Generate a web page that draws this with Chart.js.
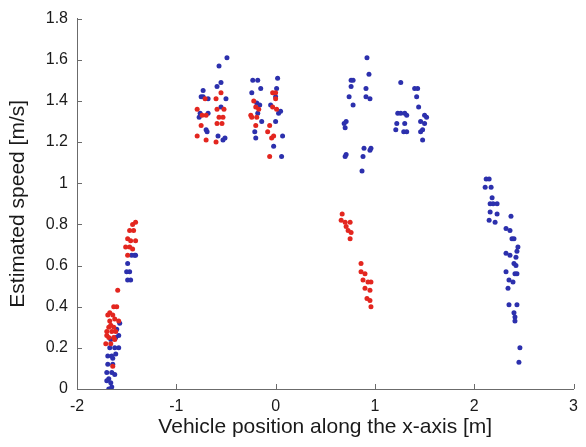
<!DOCTYPE html>
<html>
<head>
<meta charset="utf-8">
<script src="https://cdn.jsdelivr.net/npm/chart.js@4.4.1/dist/chart.umd.min.js"></script>
<style>
    html, body { margin: 0; padding: 0; background: #fff; }
</style>
</head>
<body>
<canvas id="speedChart" width="586" height="447"></canvas>
<script>
// estimated speed vs vehicle position, two groups of points [x, y]
const redPoints = [
    // near x = -1.65
    [-1.60, 0.40], [-1.63, 0.40], [-1.67, 0.37], [-1.69, 0.36], [-1.64, 0.36],
    [-1.67, 0.33], [-1.62, 0.34], [-1.58, 0.33], [-1.68, 0.30], [-1.63, 0.30],
    [-1.66, 0.31], [-1.70, 0.28], [-1.65, 0.28], [-1.61, 0.28], [-1.68, 0.25],
    [-1.63, 0.25], [-1.70, 0.26], [-1.71, 0.22], [-1.66, 0.22], [-1.62, 0.24],
    [-1.64, 0.11], [-1.59, 0.48],
    // near x = -1.45
    [-1.41, 0.81], [-1.44, 0.80], [-1.47, 0.77], [-1.43, 0.77], [-1.49, 0.73],
    [-1.46, 0.72], [-1.41, 0.72], [-1.51, 0.69], [-1.47, 0.69], [-1.44, 0.68],
    [-1.49, 0.65],
    // near x = -0.65
    [-0.71, 1.41], [-0.60, 1.41], [-0.55, 1.44], [-0.79, 1.36], [-0.74, 1.33],
    [-0.70, 1.33], [-0.59, 1.36], [-0.52, 1.36], [-0.57, 1.32], [-0.53, 1.32],
    [-0.75, 1.28], [-0.59, 1.29], [-0.54, 1.29], [-0.79, 1.23], [-0.70, 1.21],
    [-0.60, 1.20],
    // near x = -0.1
    [-0.03, 1.44], [0.00, 1.44], [-0.22, 1.40], [0.00, 1.41], [-0.20, 1.37],
    [-0.17, 1.36], [-0.25, 1.33], [-0.24, 1.32], [-0.19, 1.32], [-0.03, 1.37],
    [0.01, 1.36], [-0.06, 1.28], [-0.20, 1.28], [-0.08, 1.25], [-0.04, 1.22],
    [-0.02, 1.23], [-0.06, 1.13],
    // near x = 0.8
    [0.67, 0.85], [0.66, 0.82], [0.70, 0.81], [0.75, 0.81], [0.71, 0.79],
    [0.73, 0.77], [0.76, 0.76], [0.75, 0.73], [0.86, 0.61], [0.86, 0.57],
    [0.90, 0.56], [0.88, 0.53], [0.93, 0.52], [0.96, 0.52], [0.90, 0.49],
    [0.95, 0.48], [0.92, 0.44], [0.95, 0.43], [0.96, 0.40]
];

const bluePoints = [
    // near x = -1.65
    [-1.57, 0.32], [-1.60, 0.29], [-1.58, 0.26], [-1.61, 0.25], [-1.67, 0.20],
    [-1.62, 0.20], [-1.58, 0.20], [-1.69, 0.16], [-1.65, 0.16], [-1.64, 0.15],
    [-1.69, 0.12], [-1.64, 0.12], [-1.70, 0.08], [-1.65, 0.08], [-1.62, 0.07],
    [-1.68, 0.05], [-1.70, 0.04], [-1.66, 0.03], [-1.68, 0.00], [-1.65, 0.01],
    [-1.66, 0.24], [-1.61, 0.17],
    // near x = -1.45
    [-1.42, 0.65], [-1.45, 0.65], [-1.41, 0.65], [-1.49, 0.61], [-1.47, 0.57],
    [-1.50, 0.57], [-1.49, 0.53], [-1.46, 0.53],
    // near x = -0.65
    [-0.49, 1.61], [-0.57, 1.57], [-0.55, 1.49], [-0.59, 1.47], [-0.73, 1.45],
    [-0.75, 1.42], [-0.73, 1.42], [-0.68, 1.41], [-0.50, 1.41], [-0.55, 1.37],
    [-0.76, 1.34], [-0.68, 1.34], [-0.77, 1.32], [-0.70, 1.26], [-0.69, 1.25],
    [-0.58, 1.23], [-0.53, 1.21], [-0.51, 1.22],
    // near x = -0.1
    [-0.23, 1.50], [-0.18, 1.50], [0.02, 1.51], [0.01, 1.46], [-0.15, 1.46],
    [-0.24, 1.44], [0.00, 1.42], [-0.19, 1.39], [-0.16, 1.38], [-0.05, 1.38],
    [-0.18, 1.34], [0.03, 1.34], [0.05, 1.35], [-0.14, 1.30], [0.00, 1.30],
    [-0.21, 1.25], [-0.20, 1.22], [0.07, 1.23], [-0.02, 1.18], [0.06, 1.13],
    // near x = 0.8
    [0.92, 1.61], [0.94, 1.53], [0.76, 1.50], [0.78, 1.50], [0.76, 1.47],
    [0.91, 1.46], [0.74, 1.42], [0.91, 1.42], [0.95, 1.41], [0.78, 1.38],
    [0.71, 1.30], [0.69, 1.29], [0.70, 1.27], [0.89, 1.17], [0.96, 1.17],
    [0.95, 1.16], [0.71, 1.14], [0.70, 1.13], [0.88, 1.13], [0.87, 1.06],
    // near x = 1.35
    [1.26, 1.49], [1.40, 1.46], [1.43, 1.46], [1.42, 1.42], [1.44, 1.37],
    [1.23, 1.34], [1.26, 1.34], [1.30, 1.34], [1.32, 1.33], [1.50, 1.33],
    [1.52, 1.32], [1.22, 1.29], [1.30, 1.29], [1.46, 1.30], [1.50, 1.29],
    [1.21, 1.26], [1.29, 1.25], [1.32, 1.25], [1.46, 1.25], [1.48, 1.26],
    [1.48, 1.21],
    // near x = 2.3
    [2.12, 1.02], [2.15, 1.02], [2.11, 0.98], [2.17, 0.98], [2.18, 0.93],
    [2.16, 0.90], [2.19, 0.90], [2.23, 0.90], [2.16, 0.86], [2.23, 0.85],
    [2.15, 0.82], [2.21, 0.81], [2.37, 0.84], [2.32, 0.78], [2.36, 0.77],
    [2.38, 0.73], [2.40, 0.73], [2.44, 0.69], [2.43, 0.67], [2.32, 0.66],
    [2.36, 0.65], [2.42, 0.64], [2.40, 0.61], [2.42, 0.60], [2.32, 0.57],
    [2.41, 0.56], [2.43, 0.56], [2.35, 0.53], [2.39, 0.52], [2.34, 0.49],
    [2.35, 0.41], [2.43, 0.41], [2.40, 0.37], [2.41, 0.35], [2.41, 0.33],
    [2.46, 0.20], [2.45, 0.13]
];

const xTicks = [-2, -1, 0, 1, 2, 3];
const xTickLabels = ["-2", "-1", "0", "1", "2", "3"];
const yTicks = [0, 0.2, 0.4, 0.6, 0.8, 1, 1.2, 1.4, 1.6, 1.8];
const yTickLabels = ["0", "0.2", "0.4", "0.6", "0.8", "1", "1.2", "1.4", "1.6", "1.8"];

const axisColor = "#6b6b6b";
const textColor = "#1a1a1a";
const fontFamily = "'Liberation Sans', Arial, Helvetica, sans-serif";

// small tick marks pointing into the plot, like the original figure
const inwardTicks = {
    id: "inwardTicks",
    beforeDatasetsDraw(chart) {
        const { ctx, chartArea, scales } = chart;
        ctx.save();
        ctx.strokeStyle = axisColor;
        ctx.lineWidth = 1;
        ctx.beginPath();
        xTicks.forEach(v => {
            const px = Math.round(scales.x.getPixelForValue(v)) + 0.5;
            ctx.moveTo(px, chartArea.bottom);
            ctx.lineTo(px, chartArea.bottom - 5);
        });
        yTicks.forEach(v => {
            const py = Math.round(scales.y.getPixelForValue(v)) + 0.5;
            ctx.moveTo(chartArea.left, py);
            ctx.lineTo(chartArea.left + 5, py);
        });
        ctx.stroke();
        ctx.restore();
    }
};

function toXY(list) {
    return list.map(p => ({ x: p[0], y: p[1] }));
}

new Chart(document.getElementById("speedChart").getContext("2d"), {
    type: "scatter",
    data: {
        datasets: [
            {
                label: "red",
                data: toXY(redPoints),
                backgroundColor: "#e3261f",
                borderWidth: 0,
                pointRadius: 2.5,
                pointHoverRadius: 2.5
            },
            {
                label: "blue",
                data: toXY(bluePoints),
                backgroundColor: "#2c30ad",
                borderWidth: 0,
                pointRadius: 2.5,
                pointHoverRadius: 2.5
            }
        ]
    },
    options: {
        responsive: false,
        animation: false,
        devicePixelRatio: 1,
        layout: { padding: { top: 17, right: 9, left: 0, bottom: 0 } },
        plugins: {
            legend: { display: false },
            tooltip: { enabled: false }
        },
        scales: {
            x: {
                type: "linear",
                min: -2,
                max: 3,
                afterBuildTicks: s => { s.ticks = xTicks.map(v => ({ value: v })); },
                afterFit: s => { s.height = 58; },
                grid: { display: false, drawTicks: false },
                border: { display: true, color: axisColor, width: 1 },
                ticks: {
                    color: textColor,
                    padding: 8,
                    maxRotation: 0,
                    font: { family: fontFamily, size: 16 },
                    callback: (v, i) => xTickLabels[i]
                },
                title: {
                    display: true,
                    text: "Vehicle position along the x-axis [m]",
                    color: textColor,
                    font: { family: fontFamily, size: 21 },
                    padding: { top: 0, bottom: 7 }
                }
            },
            y: {
                type: "linear",
                min: 0,
                max: 1.8,
                afterBuildTicks: s => { s.ticks = yTicks.map(v => ({ value: v })); },
                afterFit: s => { s.width = 77; },
                grid: { display: false, drawTicks: false },
                border: { display: true, color: axisColor, width: 1 },
                ticks: {
                    color: textColor,
                    padding: 9,
                    font: { family: fontFamily, size: 16 },
                    callback: (v, i) => yTickLabels[i]
                },
                title: {
                    display: true,
                    text: "Estimated speed [m/s]",
                    color: textColor,
                    font: { family: fontFamily, size: 21 },
                    padding: { top: 6, bottom: 0 }
                }
            }
        }
    },
    plugins: [inwardTicks]
});
</script>
</body>
</html>
